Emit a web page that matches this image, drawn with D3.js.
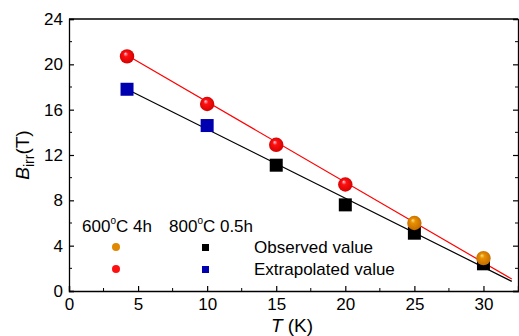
<!DOCTYPE html>
<html>
<head>
<meta charset="utf-8">
<script src="https://cdn.jsdelivr.net/npm/d3@7"></script>
<style>
  body { margin: 0; background: #fff; }
  text { font-family: "Liberation Sans", Arial, sans-serif; }
</style>
</head>
<body>
<svg id="chart" width="519" height="336"></svg>
<script>
// data
var redT = [4.2, 10, 15, 20], redB = [20.7, 16.5, 12.9, 9.4];        // 600C 4h extrapolated
var orangeT = [25, 30], orangeB = [6.0, 2.9];                         // 600C 4h observed
var blueT = [4.2, 10], blueB = [17.8, 14.6];                          // 800C 0.5h extrapolated
var blackT = [15, 20, 25, 30], blackB = [11.1, 7.6, 5.1, 2.4];        // 800C 0.5h observed
var fitT = [4.2, 32.05];
var fitRed = [20.8, 1.05];
var fitBlack = [17.8, 0.85];
var xTicks = [0, 5, 10, 15, 20, 25, 30];
var yTicks = [0, 4, 8, 12, 16, 20, 24];

var svg = d3.select("#chart");
var m = {l: 69, r: 518, t: 19, b: 291};
var x = d3.scaleLinear().domain([0, 32.5]).range([m.l, m.r]);
var y = d3.scaleLinear().domain([0, 24]).range([m.b, m.t]);

// gradients for the shaded markers
var defs = svg.append("defs");
function ball(id, light, mid, dark) {
  var g = defs.append("radialGradient").attr("id", id)
    .attr("cx", "0.5").attr("cy", "0.5").attr("r", "0.55")
    .attr("fx", "0.38").attr("fy", "0.3");
  g.append("stop").attr("offset", "0").attr("stop-color", light);
  g.append("stop").attr("offset", "0.3").attr("stop-color", mid);
  g.append("stop").attr("offset", "1").attr("stop-color", dark);
}
ball("gRed", "#f4d0e8", "#ff1010", "#d00000");
ball("gOrange", "#f8e080", "#e89000", "#c06800");

// axes
var axL = svg.append("g").attr("transform", "translate(" + m.l + ",0)")
  .call(d3.axisLeft(y).tickValues(yTicks).tickSize(-5).tickPadding(6).tickFormat(d3.format("d")));
var axB = svg.append("g").attr("transform", "translate(0," + m.b + ")")
  .call(d3.axisBottom(x).tickValues(xTicks).tickSize(-5).tickPadding(7).tickFormat(d3.format("d")));
var axR = svg.append("g").attr("transform", "translate(" + m.r + ",0)")
  .call(d3.axisRight(y).tickValues(yTicks).tickSize(-5).tickFormat(""));
svg.append("line").attr("x1", m.l).attr("x2", m.r).attr("y1", m.t).attr("y2", m.t)
  .attr("stroke", "#000").attr("stroke-width", 1.3);
[axL, axB, axR].forEach(function (a) {
  a.select(".domain").attr("stroke-width", 1.3);
  a.selectAll(".tick line").attr("stroke-width", 1.2);
  a.selectAll("text").style("font-size", "17px").attr("fill", "#000");
});
axR.selectAll(".tick").filter(function (d) { return d === 24; }).remove();

// minor ticks
var yMinor = d3.range(2, 24, 4);
var xMinor = d3.range(2.5, 32.5, 5);
svg.append("g").selectAll("line").data(yMinor).join("line")
  .attr("x1", m.l).attr("x2", m.l + 3).attr("y1", y).attr("y2", y).attr("stroke", "#000");
svg.append("g").selectAll("line").data(yMinor).join("line")
  .attr("x1", m.r).attr("x2", m.r - 3).attr("y1", y).attr("y2", y).attr("stroke", "#000");
svg.append("g").selectAll("line").data(xMinor).join("line")
  .attr("x1", x).attr("x2", x).attr("y1", m.b).attr("y2", m.b - 3).attr("stroke", "#000");

// fit lines
var line = d3.line().x(function (d) { return x(d[0]); }).y(function (d) { return y(d[1]); });
svg.append("path").datum(d3.zip(fitT, fitBlack)).attr("d", line)
  .attr("fill", "none").attr("stroke", "#000").attr("stroke-width", 1.2);
svg.append("path").datum(d3.zip(fitT, fitRed)).attr("d", line)
  .attr("fill", "none").attr("stroke", "#ff0000").attr("stroke-width", 1.2);

// markers
var sq = 13;
svg.append("g").selectAll("rect").data(d3.zip(blackT, blackB)).join("rect")
  .attr("x", function (d) { return x(d[0]) - sq / 2; }).attr("y", function (d) { return y(d[1]) - sq / 2; })
  .attr("width", sq).attr("height", sq).attr("fill", "#000");
svg.append("g").selectAll("rect").data(d3.zip(blueT, blueB)).join("rect")
  .attr("x", function (d) { return x(d[0]) - sq / 2; }).attr("y", function (d) { return y(d[1]) - sq / 2; })
  .attr("width", sq).attr("height", sq).attr("fill", "#0000b0");
svg.append("g").selectAll("circle").data(d3.zip(redT, redB)).join("circle")
  .attr("cx", function (d) { return x(d[0]); }).attr("cy", function (d) { return y(d[1]); })
  .attr("r", 7.2).attr("fill", "url(#gRed)");
svg.append("g").selectAll("circle").data(d3.zip(orangeT, orangeB)).join("circle")
  .attr("cx", function (d) { return x(d[0]); }).attr("cy", function (d) { return y(d[1]); })
  .attr("r", 7.2).attr("fill", "url(#gOrange)");

// legend
var lg = svg.append("g").style("font-size", "17px");
var h1 = lg.append("text").attr("x", 82).attr("y", 232);
h1.append("tspan").text("600");
h1.append("tspan").attr("dy", -8).style("font-size", "10px").text("o");
h1.append("tspan").attr("dy", 8).text("C 4h");
var h2 = lg.append("text").attr("x", 169).attr("y", 232);
h2.append("tspan").text("800");
h2.append("tspan").attr("dy", -8).style("font-size", "10px").text("o");
h2.append("tspan").attr("dy", 8).text("C 0.5h");
lg.append("circle").attr("cx", 116).attr("cy", 247).attr("r", 4).attr("fill", "#e08800");
lg.append("circle").attr("cx", 116).attr("cy", 269).attr("r", 4).attr("fill", "#ff1010");
lg.append("rect").attr("x", 202).attr("y", 244).attr("width", 7).attr("height", 7).attr("fill", "#000");
lg.append("rect").attr("x", 202).attr("y", 266).attr("width", 7).attr("height", 7).attr("fill", "#0000b0");
lg.append("text").attr("x", 254).attr("y", 253).text("Observed value");
lg.append("text").attr("x", 254).attr("y", 275).text("Extrapolated value");

// axis titles
var yt = svg.append("text").attr("transform", "translate(29,155) rotate(-90)")
  .attr("text-anchor", "middle").style("font-size", "19px");
yt.append("tspan").style("font-style", "italic").text("B");
yt.append("tspan").attr("dy", 5).style("font-size", "14px").text("irr");
yt.append("tspan").attr("dy", -5).text("(T)");
var xt = svg.append("text").attr("x", 292).attr("y", 332)
  .attr("text-anchor", "middle").style("font-size", "19px");
xt.append("tspan").style("font-style", "italic").text("T");
xt.append("tspan").text(" (K)");
</script>
</body>
</html>
